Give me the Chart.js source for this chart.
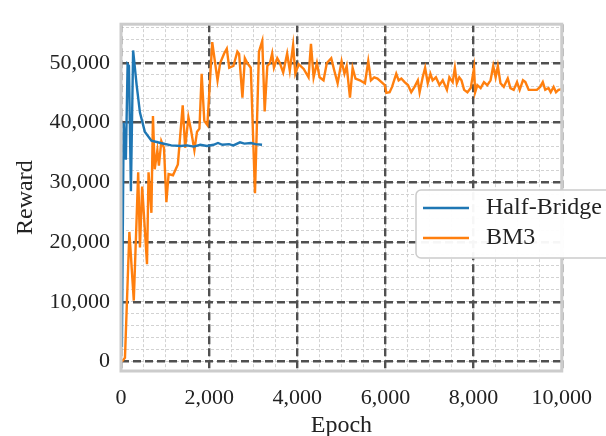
<!DOCTYPE html>
<html>
<head>
<meta charset="utf-8">
<script src="https://cdn.jsdelivr.net/npm/chart.js@4.4.1/dist/chart.umd.min.js"></script>
<style>
  html, body { margin: 0; padding: 0; background: #fff; }
  #wrap { width: 606px; height: 436px; }
</style>
</head>
<body>
<div id="wrap"><canvas id="rewardChart" width="606" height="436"></canvas></div>
<script>
// Half-Bridge run (blue)
const hbEpochs = [20, 60, 110, 150, 180, 225, 275, 355, 430, 540, 690, 900, 1140, 1350,
  1500, 1650, 1800, 1950, 2100, 2200, 2300, 2450, 2550, 2700, 2800, 2950, 3050, 3200];
const hbReward = [2400, 40000, 33800, 49800, 49500, 28500, 52100, 46300, 41700, 38500, 37000, 36600, 36200, 36100,
  36200, 36000, 36300, 36100, 36300, 36600, 36300, 36400, 36200, 36700, 36500, 36600, 36400, 36300];

// BM3 run (orange)
const bm3Epochs = [20, 90, 190, 290, 390, 430, 480, 590, 625, 690, 725, 765, 825, 860, 915, 975, 1030, 1080, 1180, 1290,
  1400, 1455, 1530, 1590, 1665, 1725, 1780, 1830, 1890, 1960, 2070, 2190, 2250, 2340, 2400, 2455, 2550, 2640, 2680, 2755,
  2810, 2865, 2945, 3040, 3130, 3205, 3260, 3320, 3380, 3430, 3470, 3545, 3605, 3680, 3770, 3830, 3905, 3955, 4030, 4145,
  4255, 4310, 4370, 4445, 4505, 4595, 4670, 4770, 4840, 4915, 5005, 5070, 5120, 5195, 5255, 5320, 5420, 5535, 5610, 5670,
  5745, 5820, 5910, 5985, 6020, 6095, 6150, 6245, 6300, 6360, 6435, 6510, 6585, 6660, 6735, 6775, 6845, 6900, 6960, 7020,
  7070, 7145, 7225, 7300, 7395, 7450, 7525, 7575, 7620, 7675, 7725, 7785, 7860, 7935, 8010, 8035, 8085, 8160, 8235, 8310,
  8385, 8445, 8500, 8550, 8610, 8685, 8775, 8835, 8910, 8985, 9045, 9120, 9175, 9250, 9365, 9435, 9510, 9570, 9625, 9700,
  9750, 9815, 9870, 9925, 10000];
const bm3Reward = [0, 600, 21700, 10200, 31700, 19100, 29300, 16300, 31700, 24900, 41100, 32200, 35400, 32800, 36900, 35800, 26700, 31400, 31200, 33000,
  42900, 35800, 40900, 38700, 35400, 38500, 39000, 48200, 40300, 39600, 53500, 47100, 50000, 51600, 52400, 49200, 49500, 51900, 51500, 44200,
  50800, 50000, 49200, 28200, 51900, 53700, 41900, 49500, 50000, 51600, 49200, 50800, 50000, 48400, 51600, 48700, 53000, 48200, 49800, 49000,
  47600, 53200, 47600, 50000, 47600, 47100, 50000, 50800, 48700, 46600, 50300, 48200, 49500, 44200, 49200, 47400, 47100, 46600, 50300, 47100,
  47600, 47400, 46800, 46300, 45000, 45100, 46000, 48200, 47100, 47400, 46800, 46300, 45100, 46000, 47100, 45100, 47600, 49200, 46600, 48200,
  47100, 47600, 46300, 47100, 45500, 47600, 46800, 49200, 46600, 47600, 47100, 45500, 45100, 45800, 49200, 45100, 46300, 45800, 46800, 46300,
  47100, 49500, 47600, 49500, 46600, 46000, 47400, 45800, 45500, 46800, 45500, 47100, 46800, 45500, 45500, 45500, 46000, 46800, 45500, 45800,
  45100, 46000, 45100, 45500, 45600];

// axis ticks
const xMajorTicks = [0, 2000, 4000, 6000, 8000, 10000];
const yMajorTicks = [0, 10000, 20000, 30000, 40000, 50000];
const xMinorStep = 500;
const yMinorStep = 2000;

const xMin = 0, xMax = 10000;
const yMin = -1600, yMax = 56500;

const serif = "'Liberation Serif', 'Times New Roman', serif";
const majorGrid = "#505050";
const minorGrid = "#d2d2d2";

function toPoints(xs, ys) {
  return xs.map((x, i) => ({ x: x, y: ys[i] }));
}

function stepTicks(lo, hi, step) {
  const out = [];
  for (let v = Math.ceil(lo / step) * step; v <= hi; v += step) out.push({ value: v });
  return out;
}

// light gray frame around the plot area
const frame = {
  id: "frame",
  afterDatasetsDraw(chart) {
    const { ctx, chartArea: a } = chart;
    ctx.save();
    ctx.strokeStyle = "#cccccc";
    ctx.lineWidth = 3;
    ctx.strokeRect(a.left, a.top, a.right - a.left, a.bottom - a.top);
    ctx.restore();
  }
};

// matplotlib-like legend box sitting over the right edge
const legendBox = {
  id: "legendBox",
  afterDraw(chart) {
    const ctx = chart.ctx;
    ctx.save();
    ctx.beginPath();
    ctx.roundRect(416, 190, 210, 68, 5);
    ctx.fillStyle = "rgba(255,255,255,0.95)";
    ctx.fill();
    ctx.lineWidth = 1.5;
    ctx.strokeStyle = "#cccccc";
    ctx.stroke();
    chart.data.datasets.forEach((ds, i) => {
      const y = 208 + i * 30;
      ctx.beginPath();
      ctx.moveTo(423, y);
      ctx.lineTo(469, y);
      ctx.strokeStyle = ds.borderColor;
      ctx.lineWidth = 2.4;
      ctx.stroke();
      ctx.fillStyle = "#222222";
      ctx.font = "24px " + serif;
      ctx.textBaseline = "alphabetic";
      ctx.fillText(ds.label, 486, y + 6);
    });
    ctx.restore();
  }
};

new Chart(document.getElementById("rewardChart"), {
  type: "line",
  data: {
    datasets: [{
      label: "Half-Bridge",
      data: toPoints(hbEpochs, hbReward),
      borderColor: "#1f77b4",
      borderWidth: 2.4,
      pointRadius: 0,
      tension: 0
    }, {
      label: "BM3",
      data: toPoints(bm3Epochs, bm3Reward),
      borderColor: "#ff7f0e",
      borderWidth: 2.4,
      pointRadius: 0,
      tension: 0
    }]
  },
  options: {
    responsive: false,
    animation: false,
    layout: { padding: { left: 0, top: 13, right: 40, bottom: 0 } },
    plugins: { legend: { display: false }, tooltip: { enabled: false } },
    scales: {
      xm: {
        type: "linear", position: "bottom", min: xMin, max: xMax,
        afterBuildTicks: (s) => { s.ticks = stepTicks(xMin, xMax, xMinorStep); },
        ticks: { display: false, autoSkip: false },
        grid: { color: minorGrid, lineWidth: 1, drawTicks: false },
        border: { display: false, dash: [3, 2] },
        afterFit: (s) => { s.height = 0; }
      },
      ym: {
        type: "linear", position: "left", min: yMin, max: yMax,
        afterBuildTicks: (s) => { s.ticks = stepTicks(yMin, yMax, yMinorStep); },
        ticks: { display: false, autoSkip: false },
        grid: { color: minorGrid, lineWidth: 1, drawTicks: false },
        border: { display: false, dash: [3, 2] },
        afterFit: (s) => { s.width = 0; }
      },
      x: {
        type: "linear", position: "bottom", min: xMin, max: xMax,
        afterBuildTicks: (s) => { s.ticks = xMajorTicks.map(v => ({ value: v })); },
        ticks: { autoSkip: false, padding: 14, color: "#222222", font: { family: serif, size: 22 } },
        grid: { color: majorGrid, lineWidth: 2.4, drawTicks: false },
        border: { display: false, dash: [8, 4] },
        title: { display: true, text: "Epoch", color: "#222222", font: { family: serif, size: 24, lineHeight: 1 }, padding: { top: 0, bottom: -2 } },
        afterFit: (s) => { s.height = 65; }
      },
      y: {
        type: "linear", position: "left", min: yMin, max: yMax,
        afterBuildTicks: (s) => { s.ticks = yMajorTicks.map(v => ({ value: v })); },
        ticks: { autoSkip: false, padding: 11, color: "#222222", font: { family: serif, size: 22 } },
        grid: { color: majorGrid, lineWidth: 2.4, drawTicks: false },
        border: { display: false, dash: [8, 4] },
        title: { display: true, text: "Reward", color: "#222222", font: { family: serif, size: 24, lineHeight: 1 }, padding: { top: 14, bottom: 0 } },
        afterFit: (s) => { s.width = 121; }
      }
    }
  },
  plugins: [frame, legendBox]
});
</script>
</body>
</html>
